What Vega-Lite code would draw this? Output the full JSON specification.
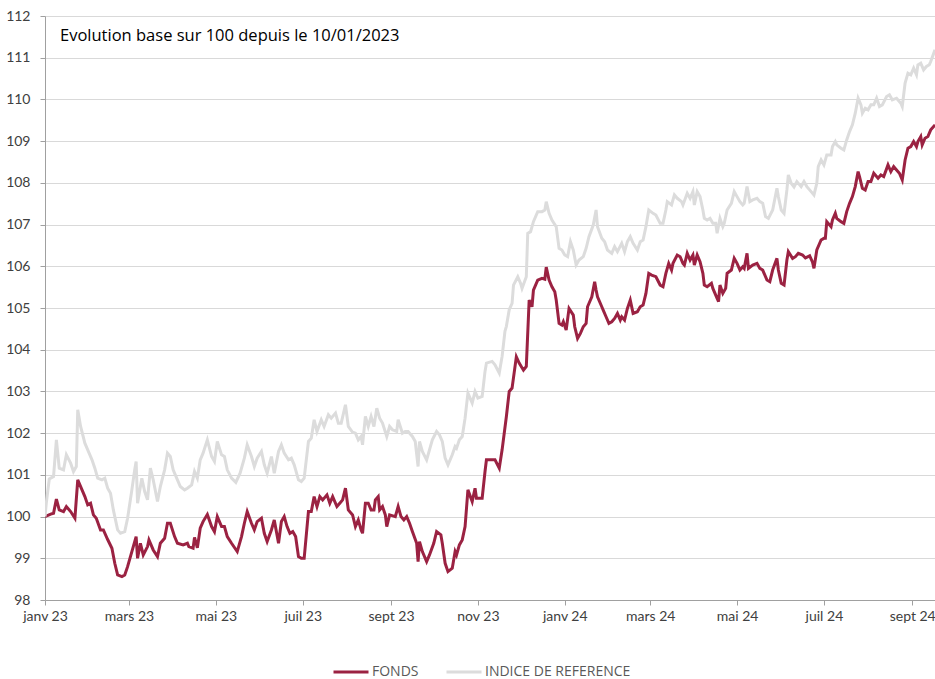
{
  "$schema": "https://vega.github.io/schema/vega-lite/v6.json",
  "width": 890,
  "height": 584,
  "autosize": "none",
  "padding": {"left": 45, "top": 16, "right": 0, "bottom": 79},
  "background": "white",
  "title": {
    "text": "Evolution base sur 100 depuis le 10/01/2023",
    "anchor": "start",
    "frame": "group",
    "orient": "top",
    "offset": 0,
    "dx": 15,
    "dy": 48,
    "baseline": "alphabetic",
    "font": "Open Sans",
    "fontSize": 16.5,
    "fontWeight": 500,
    "color": "#000000"
  },
  "config": {
    "view": {"stroke": null},
    "font": "Lato",
    "axis": {
      "labelFont": "Lato",
      "labelFontSize": 14,
      "labelColor": "#404040",
      "domainColor": "#A0A0A0",
      "tickColor": "#A0A0A0",
      "gridColor": "#D9D9D9",
      "gridWidth": 1,
      "title": null
    }
  },
  "data": {
    "values": [
      {"date":"2023-01-10","serie":"FONDS","v":100.0},
      {"date":"2023-01-14","serie":"FONDS","v":100.06},
      {"date":"2023-01-16","serie":"FONDS","v":100.08},
      {"date":"2023-01-18","serie":"FONDS","v":100.42},
      {"date":"2023-01-20","serie":"FONDS","v":100.16},
      {"date":"2023-01-23","serie":"FONDS","v":100.12},
      {"date":"2023-01-25","serie":"FONDS","v":100.24},
      {"date":"2023-01-28","serie":"FONDS","v":100.12},
      {"date":"2023-01-31","serie":"FONDS","v":99.96},
      {"date":"2023-02-02","serie":"FONDS","v":100.88},
      {"date":"2023-02-05","serie":"FONDS","v":100.64},
      {"date":"2023-02-07","serie":"FONDS","v":100.48},
      {"date":"2023-02-09","serie":"FONDS","v":100.28},
      {"date":"2023-02-11","serie":"FONDS","v":100.32},
      {"date":"2023-02-13","serie":"FONDS","v":100.04},
      {"date":"2023-02-15","serie":"FONDS","v":99.96},
      {"date":"2023-02-18","serie":"FONDS","v":99.68},
      {"date":"2023-02-20","serie":"FONDS","v":99.68},
      {"date":"2023-02-23","serie":"FONDS","v":99.45},
      {"date":"2023-02-26","serie":"FONDS","v":99.24},
      {"date":"2023-02-28","serie":"FONDS","v":98.88},
      {"date":"2023-03-02","serie":"FONDS","v":98.6},
      {"date":"2023-03-05","serie":"FONDS","v":98.56},
      {"date":"2023-03-07","serie":"FONDS","v":98.6},
      {"date":"2023-03-09","serie":"FONDS","v":98.8},
      {"date":"2023-03-13","serie":"FONDS","v":99.28},
      {"date":"2023-03-15","serie":"FONDS","v":99.52},
      {"date":"2023-03-16","serie":"FONDS","v":99.0},
      {"date":"2023-03-18","serie":"FONDS","v":99.36},
      {"date":"2023-03-20","serie":"FONDS","v":99.08},
      {"date":"2023-03-23","serie":"FONDS","v":99.28},
      {"date":"2023-03-24","serie":"FONDS","v":99.44},
      {"date":"2023-03-27","serie":"FONDS","v":99.2},
      {"date":"2023-03-30","serie":"FONDS","v":99.04},
      {"date":"2023-04-01","serie":"FONDS","v":99.36},
      {"date":"2023-04-04","serie":"FONDS","v":99.48},
      {"date":"2023-04-06","serie":"FONDS","v":99.84},
      {"date":"2023-04-08","serie":"FONDS","v":99.84},
      {"date":"2023-04-11","serie":"FONDS","v":99.52},
      {"date":"2023-04-13","serie":"FONDS","v":99.36},
      {"date":"2023-04-17","serie":"FONDS","v":99.32},
      {"date":"2023-04-20","serie":"FONDS","v":99.36},
      {"date":"2023-04-21","serie":"FONDS","v":99.28},
      {"date":"2023-04-24","serie":"FONDS","v":99.24},
      {"date":"2023-04-25","serie":"FONDS","v":99.5},
      {"date":"2023-04-27","serie":"FONDS","v":99.25},
      {"date":"2023-04-29","serie":"FONDS","v":99.72},
      {"date":"2023-05-01","serie":"FONDS","v":99.88},
      {"date":"2023-05-04","serie":"FONDS","v":100.05},
      {"date":"2023-05-07","serie":"FONDS","v":99.76},
      {"date":"2023-05-09","serie":"FONDS","v":99.64},
      {"date":"2023-05-11","serie":"FONDS","v":100.0},
      {"date":"2023-05-14","serie":"FONDS","v":99.76},
      {"date":"2023-05-16","serie":"FONDS","v":99.76},
      {"date":"2023-05-18","serie":"FONDS","v":99.52},
      {"date":"2023-05-21","serie":"FONDS","v":99.36},
      {"date":"2023-05-25","serie":"FONDS","v":99.16},
      {"date":"2023-05-28","serie":"FONDS","v":99.52},
      {"date":"2023-05-30","serie":"FONDS","v":99.84},
      {"date":"2023-06-01","serie":"FONDS","v":100.12},
      {"date":"2023-06-04","serie":"FONDS","v":99.84},
      {"date":"2023-06-06","serie":"FONDS","v":99.68},
      {"date":"2023-06-08","serie":"FONDS","v":99.88},
      {"date":"2023-06-11","serie":"FONDS","v":99.96},
      {"date":"2023-06-13","serie":"FONDS","v":99.6},
      {"date":"2023-06-15","serie":"FONDS","v":99.4},
      {"date":"2023-06-18","serie":"FONDS","v":99.68},
      {"date":"2023-06-20","serie":"FONDS","v":99.92},
      {"date":"2023-06-23","serie":"FONDS","v":99.36},
      {"date":"2023-06-25","serie":"FONDS","v":99.88},
      {"date":"2023-06-27","serie":"FONDS","v":100.0},
      {"date":"2023-06-29","serie":"FONDS","v":99.76},
      {"date":"2023-07-01","serie":"FONDS","v":99.6},
      {"date":"2023-07-03","serie":"FONDS","v":99.64},
      {"date":"2023-07-05","serie":"FONDS","v":99.52},
      {"date":"2023-07-07","serie":"FONDS","v":99.04},
      {"date":"2023-07-09","serie":"FONDS","v":99.0},
      {"date":"2023-07-11","serie":"FONDS","v":99.0},
      {"date":"2023-07-14","serie":"FONDS","v":100.12},
      {"date":"2023-07-16","serie":"FONDS","v":100.12},
      {"date":"2023-07-18","serie":"FONDS","v":100.48},
      {"date":"2023-07-20","serie":"FONDS","v":100.24},
      {"date":"2023-07-22","serie":"FONDS","v":100.48},
      {"date":"2023-07-24","serie":"FONDS","v":100.4},
      {"date":"2023-07-27","serie":"FONDS","v":100.52},
      {"date":"2023-07-29","serie":"FONDS","v":100.32},
      {"date":"2023-07-31","serie":"FONDS","v":100.48},
      {"date":"2023-08-03","serie":"FONDS","v":100.24},
      {"date":"2023-08-05","serie":"FONDS","v":100.32},
      {"date":"2023-08-07","serie":"FONDS","v":100.4},
      {"date":"2023-08-09","serie":"FONDS","v":100.68},
      {"date":"2023-08-11","serie":"FONDS","v":100.16},
      {"date":"2023-08-14","serie":"FONDS","v":100.04},
      {"date":"2023-08-16","serie":"FONDS","v":99.76},
      {"date":"2023-08-18","serie":"FONDS","v":99.92},
      {"date":"2023-08-20","serie":"FONDS","v":99.68},
      {"date":"2023-08-21","serie":"FONDS","v":99.6},
      {"date":"2023-08-23","serie":"FONDS","v":100.32},
      {"date":"2023-08-25","serie":"FONDS","v":100.32},
      {"date":"2023-08-27","serie":"FONDS","v":100.16},
      {"date":"2023-08-29","serie":"FONDS","v":100.16},
      {"date":"2023-08-30","serie":"FONDS","v":100.4},
      {"date":"2023-09-01","serie":"FONDS","v":100.48},
      {"date":"2023-09-02","serie":"FONDS","v":100.16},
      {"date":"2023-09-04","serie":"FONDS","v":100.24},
      {"date":"2023-09-06","serie":"FONDS","v":100.04},
      {"date":"2023-09-07","serie":"FONDS","v":99.76},
      {"date":"2023-09-09","serie":"FONDS","v":100.04},
      {"date":"2023-09-13","serie":"FONDS","v":100.0},
      {"date":"2023-09-15","serie":"FONDS","v":100.24},
      {"date":"2023-09-17","serie":"FONDS","v":100.0},
      {"date":"2023-09-19","serie":"FONDS","v":99.92},
      {"date":"2023-09-21","serie":"FONDS","v":100.0},
      {"date":"2023-09-23","serie":"FONDS","v":99.84},
      {"date":"2023-09-25","serie":"FONDS","v":99.64},
      {"date":"2023-09-28","serie":"FONDS","v":99.36},
      {"date":"2023-09-29","serie":"FONDS","v":98.92},
      {"date":"2023-09-30","serie":"FONDS","v":99.4},
      {"date":"2023-10-02","serie":"FONDS","v":99.16},
      {"date":"2023-10-05","serie":"FONDS","v":98.92},
      {"date":"2023-10-07","serie":"FONDS","v":99.08},
      {"date":"2023-10-10","serie":"FONDS","v":99.36},
      {"date":"2023-10-12","serie":"FONDS","v":99.64},
      {"date":"2023-10-15","serie":"FONDS","v":99.56},
      {"date":"2023-10-16","serie":"FONDS","v":99.36},
      {"date":"2023-10-18","serie":"FONDS","v":98.88},
      {"date":"2023-10-20","serie":"FONDS","v":98.68},
      {"date":"2023-10-23","serie":"FONDS","v":98.76},
      {"date":"2023-10-25","serie":"FONDS","v":99.16},
      {"date":"2023-10-26","serie":"FONDS","v":99.08},
      {"date":"2023-10-28","serie":"FONDS","v":99.32},
      {"date":"2023-10-30","serie":"FONDS","v":99.44},
      {"date":"2023-11-01","serie":"FONDS","v":99.76},
      {"date":"2023-11-03","serie":"FONDS","v":100.64},
      {"date":"2023-11-06","serie":"FONDS","v":100.36},
      {"date":"2023-11-08","serie":"FONDS","v":100.68},
      {"date":"2023-11-09","serie":"FONDS","v":100.44},
      {"date":"2023-11-13","serie":"FONDS","v":100.44},
      {"date":"2023-11-15","serie":"FONDS","v":101.08},
      {"date":"2023-11-16","serie":"FONDS","v":101.36},
      {"date":"2023-11-20","serie":"FONDS","v":101.36},
      {"date":"2023-11-22","serie":"FONDS","v":101.36},
      {"date":"2023-11-25","serie":"FONDS","v":101.16},
      {"date":"2023-11-27","serie":"FONDS","v":101.6},
      {"date":"2023-11-30","serie":"FONDS","v":102.4},
      {"date":"2023-12-02","serie":"FONDS","v":103.0},
      {"date":"2023-12-04","serie":"FONDS","v":103.08},
      {"date":"2023-12-07","serie":"FONDS","v":103.83},
      {"date":"2023-12-09","serie":"FONDS","v":103.68},
      {"date":"2023-12-12","serie":"FONDS","v":103.51},
      {"date":"2023-12-14","serie":"FONDS","v":103.6},
      {"date":"2023-12-16","serie":"FONDS","v":105.19},
      {"date":"2023-12-18","serie":"FONDS","v":105.03},
      {"date":"2023-12-19","serie":"FONDS","v":105.43},
      {"date":"2023-12-22","serie":"FONDS","v":105.67},
      {"date":"2023-12-25","serie":"FONDS","v":105.71},
      {"date":"2023-12-27","serie":"FONDS","v":105.69},
      {"date":"2023-12-28","serie":"FONDS","v":105.98},
      {"date":"2023-12-30","serie":"FONDS","v":105.67},
      {"date":"2024-01-01","serie":"FONDS","v":105.51},
      {"date":"2024-01-03","serie":"FONDS","v":105.39},
      {"date":"2024-01-04","serie":"FONDS","v":105.19},
      {"date":"2024-01-06","serie":"FONDS","v":104.63},
      {"date":"2024-01-08","serie":"FONDS","v":104.59},
      {"date":"2024-01-09","serie":"FONDS","v":104.67},
      {"date":"2024-01-11","serie":"FONDS","v":104.47},
      {"date":"2024-01-13","serie":"FONDS","v":104.99},
      {"date":"2024-01-16","serie":"FONDS","v":104.83},
      {"date":"2024-01-17","serie":"FONDS","v":104.55},
      {"date":"2024-01-19","serie":"FONDS","v":104.27},
      {"date":"2024-01-21","serie":"FONDS","v":104.39},
      {"date":"2024-01-23","serie":"FONDS","v":104.55},
      {"date":"2024-01-25","serie":"FONDS","v":104.63},
      {"date":"2024-01-26","serie":"FONDS","v":105.03},
      {"date":"2024-01-29","serie":"FONDS","v":105.27},
      {"date":"2024-01-31","serie":"FONDS","v":105.63},
      {"date":"2024-02-01","serie":"FONDS","v":105.43},
      {"date":"2024-02-02","serie":"FONDS","v":105.27},
      {"date":"2024-02-05","serie":"FONDS","v":105.03},
      {"date":"2024-02-06","serie":"FONDS","v":104.95},
      {"date":"2024-02-08","serie":"FONDS","v":104.79},
      {"date":"2024-02-10","serie":"FONDS","v":104.63},
      {"date":"2024-02-12","serie":"FONDS","v":104.67},
      {"date":"2024-02-14","serie":"FONDS","v":104.75},
      {"date":"2024-02-16","serie":"FONDS","v":104.87},
      {"date":"2024-02-18","serie":"FONDS","v":104.71},
      {"date":"2024-02-19","serie":"FONDS","v":104.79},
      {"date":"2024-02-21","serie":"FONDS","v":104.71},
      {"date":"2024-02-23","serie":"FONDS","v":104.99},
      {"date":"2024-02-25","serie":"FONDS","v":105.19},
      {"date":"2024-02-27","serie":"FONDS","v":104.87},
      {"date":"2024-03-01","serie":"FONDS","v":104.91},
      {"date":"2024-03-03","serie":"FONDS","v":105.03},
      {"date":"2024-03-05","serie":"FONDS","v":105.07},
      {"date":"2024-03-07","serie":"FONDS","v":105.35},
      {"date":"2024-03-09","serie":"FONDS","v":105.83},
      {"date":"2024-03-11","serie":"FONDS","v":105.79},
      {"date":"2024-03-14","serie":"FONDS","v":105.75},
      {"date":"2024-03-17","serie":"FONDS","v":105.55},
      {"date":"2024-03-19","serie":"FONDS","v":105.51},
      {"date":"2024-03-21","serie":"FONDS","v":105.83},
      {"date":"2024-03-23","serie":"FONDS","v":106.07},
      {"date":"2024-03-25","serie":"FONDS","v":105.91},
      {"date":"2024-03-26","serie":"FONDS","v":106.07},
      {"date":"2024-03-29","serie":"FONDS","v":106.27},
      {"date":"2024-03-31","serie":"FONDS","v":106.23},
      {"date":"2024-04-02","serie":"FONDS","v":106.07},
      {"date":"2024-04-03","serie":"FONDS","v":106.03},
      {"date":"2024-04-05","serie":"FONDS","v":106.31},
      {"date":"2024-04-07","serie":"FONDS","v":106.15},
      {"date":"2024-04-09","serie":"FONDS","v":106.27},
      {"date":"2024-04-10","serie":"FONDS","v":106.03},
      {"date":"2024-04-12","serie":"FONDS","v":106.27},
      {"date":"2024-04-14","serie":"FONDS","v":106.11},
      {"date":"2024-04-16","serie":"FONDS","v":105.83},
      {"date":"2024-04-17","serie":"FONDS","v":105.55},
      {"date":"2024-04-19","serie":"FONDS","v":105.51},
      {"date":"2024-04-22","serie":"FONDS","v":105.59},
      {"date":"2024-04-23","serie":"FONDS","v":105.47},
      {"date":"2024-04-26","serie":"FONDS","v":105.23},
      {"date":"2024-04-27","serie":"FONDS","v":105.15},
      {"date":"2024-04-28","serie":"FONDS","v":105.55},
      {"date":"2024-04-30","serie":"FONDS","v":105.35},
      {"date":"2024-05-02","serie":"FONDS","v":105.47},
      {"date":"2024-05-03","serie":"FONDS","v":105.83},
      {"date":"2024-05-06","serie":"FONDS","v":105.91},
      {"date":"2024-05-08","serie":"FONDS","v":106.19},
      {"date":"2024-05-10","serie":"FONDS","v":106.07},
      {"date":"2024-05-12","serie":"FONDS","v":105.91},
      {"date":"2024-05-14","serie":"FONDS","v":105.99},
      {"date":"2024-05-15","serie":"FONDS","v":105.95},
      {"date":"2024-05-17","serie":"FONDS","v":106.31},
      {"date":"2024-05-18","serie":"FONDS","v":105.95},
      {"date":"2024-05-21","serie":"FONDS","v":106.03},
      {"date":"2024-05-24","serie":"FONDS","v":106.07},
      {"date":"2024-05-26","serie":"FONDS","v":105.95},
      {"date":"2024-05-28","serie":"FONDS","v":105.91},
      {"date":"2024-05-31","serie":"FONDS","v":105.67},
      {"date":"2024-06-02","serie":"FONDS","v":105.63},
      {"date":"2024-06-04","serie":"FONDS","v":105.91},
      {"date":"2024-06-07","serie":"FONDS","v":106.19},
      {"date":"2024-06-08","serie":"FONDS","v":105.91},
      {"date":"2024-06-10","serie":"FONDS","v":105.59},
      {"date":"2024-06-12","serie":"FONDS","v":105.55},
      {"date":"2024-06-14","serie":"FONDS","v":106.15},
      {"date":"2024-06-15","serie":"FONDS","v":106.35},
      {"date":"2024-06-18","serie":"FONDS","v":106.19},
      {"date":"2024-06-20","serie":"FONDS","v":106.23},
      {"date":"2024-06-22","serie":"FONDS","v":106.31},
      {"date":"2024-06-25","serie":"FONDS","v":106.27},
      {"date":"2024-06-27","serie":"FONDS","v":106.2},
      {"date":"2024-06-30","serie":"FONDS","v":106.25},
      {"date":"2024-07-02","serie":"FONDS","v":106.1},
      {"date":"2024-07-03","serie":"FONDS","v":105.95},
      {"date":"2024-07-05","serie":"FONDS","v":106.39},
      {"date":"2024-07-08","serie":"FONDS","v":106.63},
      {"date":"2024-07-10","serie":"FONDS","v":106.67},
      {"date":"2024-07-11","serie":"FONDS","v":106.67},
      {"date":"2024-07-12","serie":"FONDS","v":107.07},
      {"date":"2024-07-15","serie":"FONDS","v":106.95},
      {"date":"2024-07-16","serie":"FONDS","v":107.11},
      {"date":"2024-07-18","serie":"FONDS","v":107.27},
      {"date":"2024-07-19","serie":"FONDS","v":107.15},
      {"date":"2024-07-22","serie":"FONDS","v":107.07},
      {"date":"2024-07-24","serie":"FONDS","v":107.03},
      {"date":"2024-07-26","serie":"FONDS","v":107.31},
      {"date":"2024-07-28","serie":"FONDS","v":107.51},
      {"date":"2024-07-30","serie":"FONDS","v":107.67},
      {"date":"2024-08-01","serie":"FONDS","v":107.91},
      {"date":"2024-08-03","serie":"FONDS","v":108.27},
      {"date":"2024-08-04","serie":"FONDS","v":108.15},
      {"date":"2024-08-06","serie":"FONDS","v":107.87},
      {"date":"2024-08-08","serie":"FONDS","v":107.83},
      {"date":"2024-08-10","serie":"FONDS","v":108.03},
      {"date":"2024-08-12","serie":"FONDS","v":108.03},
      {"date":"2024-08-14","serie":"FONDS","v":108.23},
      {"date":"2024-08-17","serie":"FONDS","v":108.11},
      {"date":"2024-08-19","serie":"FONDS","v":108.19},
      {"date":"2024-08-21","serie":"FONDS","v":108.15},
      {"date":"2024-08-24","serie":"FONDS","v":108.43},
      {"date":"2024-08-25","serie":"FONDS","v":108.35},
      {"date":"2024-08-26","serie":"FONDS","v":108.27},
      {"date":"2024-08-28","serie":"FONDS","v":108.39},
      {"date":"2024-08-30","serie":"FONDS","v":108.31},
      {"date":"2024-09-01","serie":"FONDS","v":108.23},
      {"date":"2024-09-03","serie":"FONDS","v":108.07},
      {"date":"2024-09-05","serie":"FONDS","v":108.55},
      {"date":"2024-09-07","serie":"FONDS","v":108.83},
      {"date":"2024-09-09","serie":"FONDS","v":108.87},
      {"date":"2024-09-11","serie":"FONDS","v":108.99},
      {"date":"2024-09-13","serie":"FONDS","v":108.87},
      {"date":"2024-09-14","serie":"FONDS","v":108.99},
      {"date":"2024-09-16","serie":"FONDS","v":109.11},
      {"date":"2024-09-17","serie":"FONDS","v":108.91},
      {"date":"2024-09-19","serie":"FONDS","v":109.07},
      {"date":"2024-09-21","serie":"FONDS","v":109.11},
      {"date":"2024-09-23","serie":"FONDS","v":109.27},
      {"date":"2024-09-26","serie":"FONDS","v":109.39},

      {"date":"2023-01-10","serie":"INDICE DE REFERENCE","v":100.0},
      {"date":"2023-01-11","serie":"INDICE DE REFERENCE","v":100.35},
      {"date":"2023-01-13","serie":"INDICE DE REFERENCE","v":100.9},
      {"date":"2023-01-16","serie":"INDICE DE REFERENCE","v":100.96},
      {"date":"2023-01-18","serie":"INDICE DE REFERENCE","v":101.84},
      {"date":"2023-01-20","serie":"INDICE DE REFERENCE","v":101.16},
      {"date":"2023-01-23","serie":"INDICE DE REFERENCE","v":101.12},
      {"date":"2023-01-25","serie":"INDICE DE REFERENCE","v":101.48},
      {"date":"2023-01-28","serie":"INDICE DE REFERENCE","v":101.28},
      {"date":"2023-01-30","serie":"INDICE DE REFERENCE","v":101.08},
      {"date":"2023-02-01","serie":"INDICE DE REFERENCE","v":101.2},
      {"date":"2023-02-02","serie":"INDICE DE REFERENCE","v":102.56},
      {"date":"2023-02-04","serie":"INDICE DE REFERENCE","v":102.16},
      {"date":"2023-02-07","serie":"INDICE DE REFERENCE","v":101.76},
      {"date":"2023-02-09","serie":"INDICE DE REFERENCE","v":101.6},
      {"date":"2023-02-12","serie":"INDICE DE REFERENCE","v":101.36},
      {"date":"2023-02-14","serie":"INDICE DE REFERENCE","v":101.16},
      {"date":"2023-02-16","serie":"INDICE DE REFERENCE","v":100.92},
      {"date":"2023-02-19","serie":"INDICE DE REFERENCE","v":100.88},
      {"date":"2023-02-21","serie":"INDICE DE REFERENCE","v":100.92},
      {"date":"2023-02-23","serie":"INDICE DE REFERENCE","v":100.68},
      {"date":"2023-02-25","serie":"INDICE DE REFERENCE","v":100.56},
      {"date":"2023-02-27","serie":"INDICE DE REFERENCE","v":100.16},
      {"date":"2023-03-02","serie":"INDICE DE REFERENCE","v":99.68},
      {"date":"2023-03-04","serie":"INDICE DE REFERENCE","v":99.6},
      {"date":"2023-03-07","serie":"INDICE DE REFERENCE","v":99.64},
      {"date":"2023-03-09","serie":"INDICE DE REFERENCE","v":99.96},
      {"date":"2023-03-12","serie":"INDICE DE REFERENCE","v":100.64},
      {"date":"2023-03-14","serie":"INDICE DE REFERENCE","v":101.12},
      {"date":"2023-03-15","serie":"INDICE DE REFERENCE","v":101.32},
      {"date":"2023-03-16","serie":"INDICE DE REFERENCE","v":100.32},
      {"date":"2023-03-19","serie":"INDICE DE REFERENCE","v":100.92},
      {"date":"2023-03-21","serie":"INDICE DE REFERENCE","v":100.6},
      {"date":"2023-03-23","serie":"INDICE DE REFERENCE","v":100.4},
      {"date":"2023-03-25","serie":"INDICE DE REFERENCE","v":101.16},
      {"date":"2023-03-27","serie":"INDICE DE REFERENCE","v":100.88},
      {"date":"2023-03-30","serie":"INDICE DE REFERENCE","v":100.36},
      {"date":"2023-04-01","serie":"INDICE DE REFERENCE","v":100.72},
      {"date":"2023-04-04","serie":"INDICE DE REFERENCE","v":101.12},
      {"date":"2023-04-06","serie":"INDICE DE REFERENCE","v":101.52},
      {"date":"2023-04-08","serie":"INDICE DE REFERENCE","v":101.44},
      {"date":"2023-04-10","serie":"INDICE DE REFERENCE","v":101.12},
      {"date":"2023-04-13","serie":"INDICE DE REFERENCE","v":100.88},
      {"date":"2023-04-15","serie":"INDICE DE REFERENCE","v":100.72},
      {"date":"2023-04-18","serie":"INDICE DE REFERENCE","v":100.64},
      {"date":"2023-04-20","serie":"INDICE DE REFERENCE","v":100.68},
      {"date":"2023-04-23","serie":"INDICE DE REFERENCE","v":100.76},
      {"date":"2023-04-25","serie":"INDICE DE REFERENCE","v":101.08},
      {"date":"2023-04-27","serie":"INDICE DE REFERENCE","v":100.92},
      {"date":"2023-04-29","serie":"INDICE DE REFERENCE","v":101.36},
      {"date":"2023-05-01","serie":"INDICE DE REFERENCE","v":101.52},
      {"date":"2023-05-04","serie":"INDICE DE REFERENCE","v":101.84},
      {"date":"2023-05-07","serie":"INDICE DE REFERENCE","v":101.44},
      {"date":"2023-05-09","serie":"INDICE DE REFERENCE","v":101.32},
      {"date":"2023-05-11","serie":"INDICE DE REFERENCE","v":101.8},
      {"date":"2023-05-14","serie":"INDICE DE REFERENCE","v":101.48},
      {"date":"2023-05-16","serie":"INDICE DE REFERENCE","v":101.44},
      {"date":"2023-05-18","serie":"INDICE DE REFERENCE","v":101.12},
      {"date":"2023-05-21","serie":"INDICE DE REFERENCE","v":100.92},
      {"date":"2023-05-24","serie":"INDICE DE REFERENCE","v":100.82},
      {"date":"2023-05-27","serie":"INDICE DE REFERENCE","v":101.04},
      {"date":"2023-05-30","serie":"INDICE DE REFERENCE","v":101.4},
      {"date":"2023-06-01","serie":"INDICE DE REFERENCE","v":101.72},
      {"date":"2023-06-04","serie":"INDICE DE REFERENCE","v":101.44},
      {"date":"2023-06-06","serie":"INDICE DE REFERENCE","v":101.2},
      {"date":"2023-06-08","serie":"INDICE DE REFERENCE","v":101.4},
      {"date":"2023-06-11","serie":"INDICE DE REFERENCE","v":101.56},
      {"date":"2023-06-13","serie":"INDICE DE REFERENCE","v":101.24},
      {"date":"2023-06-15","serie":"INDICE DE REFERENCE","v":101.04},
      {"date":"2023-06-18","serie":"INDICE DE REFERENCE","v":101.44},
      {"date":"2023-06-20","serie":"INDICE DE REFERENCE","v":101.04},
      {"date":"2023-06-23","serie":"INDICE DE REFERENCE","v":101.56},
      {"date":"2023-06-25","serie":"INDICE DE REFERENCE","v":101.72},
      {"date":"2023-06-27","serie":"INDICE DE REFERENCE","v":101.52},
      {"date":"2023-06-30","serie":"INDICE DE REFERENCE","v":101.36},
      {"date":"2023-07-02","serie":"INDICE DE REFERENCE","v":101.4},
      {"date":"2023-07-04","serie":"INDICE DE REFERENCE","v":101.24},
      {"date":"2023-07-07","serie":"INDICE DE REFERENCE","v":100.88},
      {"date":"2023-07-09","serie":"INDICE DE REFERENCE","v":100.84},
      {"date":"2023-07-11","serie":"INDICE DE REFERENCE","v":100.92},
      {"date":"2023-07-14","serie":"INDICE DE REFERENCE","v":101.8},
      {"date":"2023-07-16","serie":"INDICE DE REFERENCE","v":101.88},
      {"date":"2023-07-18","serie":"INDICE DE REFERENCE","v":102.32},
      {"date":"2023-07-20","serie":"INDICE DE REFERENCE","v":102.04},
      {"date":"2023-07-23","serie":"INDICE DE REFERENCE","v":102.32},
      {"date":"2023-07-25","serie":"INDICE DE REFERENCE","v":102.16},
      {"date":"2023-07-28","serie":"INDICE DE REFERENCE","v":102.44},
      {"date":"2023-07-30","serie":"INDICE DE REFERENCE","v":102.36},
      {"date":"2023-08-02","serie":"INDICE DE REFERENCE","v":102.48},
      {"date":"2023-08-04","serie":"INDICE DE REFERENCE","v":102.24},
      {"date":"2023-08-06","serie":"INDICE DE REFERENCE","v":102.24},
      {"date":"2023-08-09","serie":"INDICE DE REFERENCE","v":102.68},
      {"date":"2023-08-11","serie":"INDICE DE REFERENCE","v":102.16},
      {"date":"2023-08-14","serie":"INDICE DE REFERENCE","v":102.02},
      {"date":"2023-08-16","serie":"INDICE DE REFERENCE","v":102.0},
      {"date":"2023-08-18","serie":"INDICE DE REFERENCE","v":101.84},
      {"date":"2023-08-20","serie":"INDICE DE REFERENCE","v":101.92},
      {"date":"2023-08-21","serie":"INDICE DE REFERENCE","v":101.72},
      {"date":"2023-08-23","serie":"INDICE DE REFERENCE","v":102.4},
      {"date":"2023-08-25","serie":"INDICE DE REFERENCE","v":102.16},
      {"date":"2023-08-27","serie":"INDICE DE REFERENCE","v":102.4},
      {"date":"2023-08-29","serie":"INDICE DE REFERENCE","v":102.16},
      {"date":"2023-08-31","serie":"INDICE DE REFERENCE","v":102.6},
      {"date":"2023-09-02","serie":"INDICE DE REFERENCE","v":102.36},
      {"date":"2023-09-04","serie":"INDICE DE REFERENCE","v":102.24},
      {"date":"2023-09-07","serie":"INDICE DE REFERENCE","v":101.92},
      {"date":"2023-09-09","serie":"INDICE DE REFERENCE","v":102.16},
      {"date":"2023-09-11","serie":"INDICE DE REFERENCE","v":102.08},
      {"date":"2023-09-14","serie":"INDICE DE REFERENCE","v":102.04},
      {"date":"2023-09-15","serie":"INDICE DE REFERENCE","v":102.32},
      {"date":"2023-09-18","serie":"INDICE DE REFERENCE","v":102.0},
      {"date":"2023-09-20","serie":"INDICE DE REFERENCE","v":102.04},
      {"date":"2023-09-22","serie":"INDICE DE REFERENCE","v":102.04},
      {"date":"2023-09-25","serie":"INDICE DE REFERENCE","v":101.92},
      {"date":"2023-09-27","serie":"INDICE DE REFERENCE","v":101.8},
      {"date":"2023-09-29","serie":"INDICE DE REFERENCE","v":101.2},
      {"date":"2023-09-30","serie":"INDICE DE REFERENCE","v":101.8},
      {"date":"2023-10-02","serie":"INDICE DE REFERENCE","v":101.56},
      {"date":"2023-10-05","serie":"INDICE DE REFERENCE","v":101.36},
      {"date":"2023-10-07","serie":"INDICE DE REFERENCE","v":101.6},
      {"date":"2023-10-09","serie":"INDICE DE REFERENCE","v":101.84},
      {"date":"2023-10-12","serie":"INDICE DE REFERENCE","v":102.04},
      {"date":"2023-10-14","serie":"INDICE DE REFERENCE","v":101.96},
      {"date":"2023-10-16","serie":"INDICE DE REFERENCE","v":101.8},
      {"date":"2023-10-18","serie":"INDICE DE REFERENCE","v":101.4},
      {"date":"2023-10-20","serie":"INDICE DE REFERENCE","v":101.24},
      {"date":"2023-10-23","serie":"INDICE DE REFERENCE","v":101.48},
      {"date":"2023-10-25","serie":"INDICE DE REFERENCE","v":101.68},
      {"date":"2023-10-26","serie":"INDICE DE REFERENCE","v":101.64},
      {"date":"2023-10-28","serie":"INDICE DE REFERENCE","v":101.84},
      {"date":"2023-10-30","serie":"INDICE DE REFERENCE","v":101.92},
      {"date":"2023-11-01","serie":"INDICE DE REFERENCE","v":102.36},
      {"date":"2023-11-03","serie":"INDICE DE REFERENCE","v":102.96},
      {"date":"2023-11-06","serie":"INDICE DE REFERENCE","v":102.72},
      {"date":"2023-11-08","serie":"INDICE DE REFERENCE","v":103.0},
      {"date":"2023-11-10","serie":"INDICE DE REFERENCE","v":102.84},
      {"date":"2023-11-13","serie":"INDICE DE REFERENCE","v":102.88},
      {"date":"2023-11-15","serie":"INDICE DE REFERENCE","v":103.48},
      {"date":"2023-11-16","serie":"INDICE DE REFERENCE","v":103.68},
      {"date":"2023-11-20","serie":"INDICE DE REFERENCE","v":103.72},
      {"date":"2023-11-22","serie":"INDICE DE REFERENCE","v":103.64},
      {"date":"2023-11-25","serie":"INDICE DE REFERENCE","v":103.44},
      {"date":"2023-11-27","serie":"INDICE DE REFERENCE","v":103.84},
      {"date":"2023-11-29","serie":"INDICE DE REFERENCE","v":104.44},
      {"date":"2023-11-30","serie":"INDICE DE REFERENCE","v":104.56},
      {"date":"2023-12-02","serie":"INDICE DE REFERENCE","v":104.96},
      {"date":"2023-12-04","serie":"INDICE DE REFERENCE","v":105.11},
      {"date":"2023-12-05","serie":"INDICE DE REFERENCE","v":105.55},
      {"date":"2023-12-08","serie":"INDICE DE REFERENCE","v":105.75},
      {"date":"2023-12-10","serie":"INDICE DE REFERENCE","v":105.59},
      {"date":"2023-12-11","serie":"INDICE DE REFERENCE","v":105.47},
      {"date":"2023-12-14","serie":"INDICE DE REFERENCE","v":105.75},
      {"date":"2023-12-15","serie":"INDICE DE REFERENCE","v":106.79},
      {"date":"2023-12-17","serie":"INDICE DE REFERENCE","v":106.83},
      {"date":"2023-12-19","serie":"INDICE DE REFERENCE","v":107.07},
      {"date":"2023-12-22","serie":"INDICE DE REFERENCE","v":107.31},
      {"date":"2023-12-25","serie":"INDICE DE REFERENCE","v":107.31},
      {"date":"2023-12-27","serie":"INDICE DE REFERENCE","v":107.35},
      {"date":"2023-12-28","serie":"INDICE DE REFERENCE","v":107.55},
      {"date":"2023-12-30","serie":"INDICE DE REFERENCE","v":107.27},
      {"date":"2024-01-01","serie":"INDICE DE REFERENCE","v":107.11},
      {"date":"2024-01-04","serie":"INDICE DE REFERENCE","v":106.95},
      {"date":"2024-01-06","serie":"INDICE DE REFERENCE","v":106.43},
      {"date":"2024-01-08","serie":"INDICE DE REFERENCE","v":106.39},
      {"date":"2024-01-10","serie":"INDICE DE REFERENCE","v":106.27},
      {"date":"2024-01-12","serie":"INDICE DE REFERENCE","v":106.23},
      {"date":"2024-01-14","serie":"INDICE DE REFERENCE","v":106.59},
      {"date":"2024-01-16","serie":"INDICE DE REFERENCE","v":106.39},
      {"date":"2024-01-18","serie":"INDICE DE REFERENCE","v":106.03},
      {"date":"2024-01-20","serie":"INDICE DE REFERENCE","v":106.15},
      {"date":"2024-01-23","serie":"INDICE DE REFERENCE","v":106.23},
      {"date":"2024-01-25","serie":"INDICE DE REFERENCE","v":106.43},
      {"date":"2024-01-27","serie":"INDICE DE REFERENCE","v":106.71},
      {"date":"2024-01-30","serie":"INDICE DE REFERENCE","v":106.99},
      {"date":"2024-02-01","serie":"INDICE DE REFERENCE","v":107.35},
      {"date":"2024-02-02","serie":"INDICE DE REFERENCE","v":106.95},
      {"date":"2024-02-05","serie":"INDICE DE REFERENCE","v":106.67},
      {"date":"2024-02-07","serie":"INDICE DE REFERENCE","v":106.59},
      {"date":"2024-02-09","serie":"INDICE DE REFERENCE","v":106.39},
      {"date":"2024-02-12","serie":"INDICE DE REFERENCE","v":106.31},
      {"date":"2024-02-14","serie":"INDICE DE REFERENCE","v":106.47},
      {"date":"2024-02-16","serie":"INDICE DE REFERENCE","v":106.35},
      {"date":"2024-02-19","serie":"INDICE DE REFERENCE","v":106.55},
      {"date":"2024-02-21","serie":"INDICE DE REFERENCE","v":106.35},
      {"date":"2024-02-23","serie":"INDICE DE REFERENCE","v":106.59},
      {"date":"2024-02-25","serie":"INDICE DE REFERENCE","v":106.71},
      {"date":"2024-02-27","serie":"INDICE DE REFERENCE","v":106.55},
      {"date":"2024-03-01","serie":"INDICE DE REFERENCE","v":106.39},
      {"date":"2024-03-03","serie":"INDICE DE REFERENCE","v":106.59},
      {"date":"2024-03-05","serie":"INDICE DE REFERENCE","v":106.63},
      {"date":"2024-03-07","serie":"INDICE DE REFERENCE","v":106.95},
      {"date":"2024-03-09","serie":"INDICE DE REFERENCE","v":107.35},
      {"date":"2024-03-12","serie":"INDICE DE REFERENCE","v":107.27},
      {"date":"2024-03-14","serie":"INDICE DE REFERENCE","v":107.23},
      {"date":"2024-03-17","serie":"INDICE DE REFERENCE","v":107.03},
      {"date":"2024-03-19","serie":"INDICE DE REFERENCE","v":107.03},
      {"date":"2024-03-21","serie":"INDICE DE REFERENCE","v":107.35},
      {"date":"2024-03-22","serie":"INDICE DE REFERENCE","v":107.55},
      {"date":"2024-03-25","serie":"INDICE DE REFERENCE","v":107.47},
      {"date":"2024-03-27","serie":"INDICE DE REFERENCE","v":107.71},
      {"date":"2024-03-29","serie":"INDICE DE REFERENCE","v":107.63},
      {"date":"2024-04-01","serie":"INDICE DE REFERENCE","v":107.55},
      {"date":"2024-04-02","serie":"INDICE DE REFERENCE","v":107.47},
      {"date":"2024-04-05","serie":"INDICE DE REFERENCE","v":107.75},
      {"date":"2024-04-07","serie":"INDICE DE REFERENCE","v":107.63},
      {"date":"2024-04-09","serie":"INDICE DE REFERENCE","v":107.79},
      {"date":"2024-04-10","serie":"INDICE DE REFERENCE","v":107.47},
      {"date":"2024-04-12","serie":"INDICE DE REFERENCE","v":107.79},
      {"date":"2024-04-14","serie":"INDICE DE REFERENCE","v":107.67},
      {"date":"2024-04-16","serie":"INDICE DE REFERENCE","v":107.35},
      {"date":"2024-04-17","serie":"INDICE DE REFERENCE","v":107.15},
      {"date":"2024-04-19","serie":"INDICE DE REFERENCE","v":107.11},
      {"date":"2024-04-21","serie":"INDICE DE REFERENCE","v":107.15},
      {"date":"2024-04-23","serie":"INDICE DE REFERENCE","v":107.03},
      {"date":"2024-04-25","serie":"INDICE DE REFERENCE","v":107.03},
      {"date":"2024-04-26","serie":"INDICE DE REFERENCE","v":106.79},
      {"date":"2024-04-28","serie":"INDICE DE REFERENCE","v":107.15},
      {"date":"2024-04-30","serie":"INDICE DE REFERENCE","v":106.95},
      {"date":"2024-05-01","serie":"INDICE DE REFERENCE","v":107.03},
      {"date":"2024-05-03","serie":"INDICE DE REFERENCE","v":107.35},
      {"date":"2024-05-06","serie":"INDICE DE REFERENCE","v":107.51},
      {"date":"2024-05-08","serie":"INDICE DE REFERENCE","v":107.79},
      {"date":"2024-05-10","serie":"INDICE DE REFERENCE","v":107.67},
      {"date":"2024-05-12","serie":"INDICE DE REFERENCE","v":107.55},
      {"date":"2024-05-14","serie":"INDICE DE REFERENCE","v":107.47},
      {"date":"2024-05-15","serie":"INDICE DE REFERENCE","v":107.51},
      {"date":"2024-05-17","serie":"INDICE DE REFERENCE","v":107.91},
      {"date":"2024-05-19","serie":"INDICE DE REFERENCE","v":107.55},
      {"date":"2024-05-21","serie":"INDICE DE REFERENCE","v":107.59},
      {"date":"2024-05-24","serie":"INDICE DE REFERENCE","v":107.63},
      {"date":"2024-05-26","serie":"INDICE DE REFERENCE","v":107.55},
      {"date":"2024-05-28","serie":"INDICE DE REFERENCE","v":107.51},
      {"date":"2024-05-30","serie":"INDICE DE REFERENCE","v":107.19},
      {"date":"2024-06-01","serie":"INDICE DE REFERENCE","v":107.15},
      {"date":"2024-06-04","serie":"INDICE DE REFERENCE","v":107.35},
      {"date":"2024-06-07","serie":"INDICE DE REFERENCE","v":107.87},
      {"date":"2024-06-08","serie":"INDICE DE REFERENCE","v":107.67},
      {"date":"2024-06-10","serie":"INDICE DE REFERENCE","v":107.35},
      {"date":"2024-06-12","serie":"INDICE DE REFERENCE","v":107.27},
      {"date":"2024-06-14","serie":"INDICE DE REFERENCE","v":107.83},
      {"date":"2024-06-15","serie":"INDICE DE REFERENCE","v":108.19},
      {"date":"2024-06-17","serie":"INDICE DE REFERENCE","v":107.99},
      {"date":"2024-06-19","serie":"INDICE DE REFERENCE","v":107.9},
      {"date":"2024-06-21","serie":"INDICE DE REFERENCE","v":108.03},
      {"date":"2024-06-24","serie":"INDICE DE REFERENCE","v":107.91},
      {"date":"2024-06-26","serie":"INDICE DE REFERENCE","v":108.03},
      {"date":"2024-06-28","serie":"INDICE DE REFERENCE","v":107.91},
      {"date":"2024-07-01","serie":"INDICE DE REFERENCE","v":107.79},
      {"date":"2024-07-03","serie":"INDICE DE REFERENCE","v":107.71},
      {"date":"2024-07-05","serie":"INDICE DE REFERENCE","v":107.99},
      {"date":"2024-07-06","serie":"INDICE DE REFERENCE","v":108.39},
      {"date":"2024-07-08","serie":"INDICE DE REFERENCE","v":108.55},
      {"date":"2024-07-10","serie":"INDICE DE REFERENCE","v":108.43},
      {"date":"2024-07-12","serie":"INDICE DE REFERENCE","v":108.67},
      {"date":"2024-07-15","serie":"INDICE DE REFERENCE","v":108.67},
      {"date":"2024-07-16","serie":"INDICE DE REFERENCE","v":108.87},
      {"date":"2024-07-18","serie":"INDICE DE REFERENCE","v":108.99},
      {"date":"2024-07-19","serie":"INDICE DE REFERENCE","v":108.91},
      {"date":"2024-07-22","serie":"INDICE DE REFERENCE","v":108.83},
      {"date":"2024-07-24","serie":"INDICE DE REFERENCE","v":108.79},
      {"date":"2024-07-26","serie":"INDICE DE REFERENCE","v":109.03},
      {"date":"2024-07-28","serie":"INDICE DE REFERENCE","v":109.23},
      {"date":"2024-07-30","serie":"INDICE DE REFERENCE","v":109.39},
      {"date":"2024-08-01","serie":"INDICE DE REFERENCE","v":109.67},
      {"date":"2024-08-03","serie":"INDICE DE REFERENCE","v":110.03},
      {"date":"2024-08-05","serie":"INDICE DE REFERENCE","v":109.87},
      {"date":"2024-08-06","serie":"INDICE DE REFERENCE","v":109.67},
      {"date":"2024-08-08","serie":"INDICE DE REFERENCE","v":109.79},
      {"date":"2024-08-10","serie":"INDICE DE REFERENCE","v":109.75},
      {"date":"2024-08-12","serie":"INDICE DE REFERENCE","v":109.87},
      {"date":"2024-08-14","serie":"INDICE DE REFERENCE","v":109.87},
      {"date":"2024-08-16","serie":"INDICE DE REFERENCE","v":110.03},
      {"date":"2024-08-18","serie":"INDICE DE REFERENCE","v":109.83},
      {"date":"2024-08-20","serie":"INDICE DE REFERENCE","v":109.87},
      {"date":"2024-08-23","serie":"INDICE DE REFERENCE","v":110.07},
      {"date":"2024-08-25","serie":"INDICE DE REFERENCE","v":110.11},
      {"date":"2024-08-27","serie":"INDICE DE REFERENCE","v":109.99},
      {"date":"2024-08-30","serie":"INDICE DE REFERENCE","v":110.03},
      {"date":"2024-09-02","serie":"INDICE DE REFERENCE","v":109.91},
      {"date":"2024-09-03","serie":"INDICE DE REFERENCE","v":109.83},
      {"date":"2024-09-05","serie":"INDICE DE REFERENCE","v":110.39},
      {"date":"2024-09-07","serie":"INDICE DE REFERENCE","v":110.63},
      {"date":"2024-09-09","serie":"INDICE DE REFERENCE","v":110.59},
      {"date":"2024-09-11","serie":"INDICE DE REFERENCE","v":110.75},
      {"date":"2024-09-13","serie":"INDICE DE REFERENCE","v":110.59},
      {"date":"2024-09-14","serie":"INDICE DE REFERENCE","v":110.83},
      {"date":"2024-09-16","serie":"INDICE DE REFERENCE","v":110.87},
      {"date":"2024-09-18","serie":"INDICE DE REFERENCE","v":110.71},
      {"date":"2024-09-20","serie":"INDICE DE REFERENCE","v":110.79},
      {"date":"2024-09-22","serie":"INDICE DE REFERENCE","v":110.83},
      {"date":"2024-09-23","serie":"INDICE DE REFERENCE","v":110.91},
      {"date":"2024-09-26","serie":"INDICE DE REFERENCE","v":111.19}
    ]
  },
  "mark": {"type": "line", "strokeWidth": 3, "clip": true, "interpolate": "linear"},
  "encoding": {
    "x": {
      "field": "date",
      "type": "temporal",
      "scale": {
        "type": "utc",
        "domain": [
          {"year": 2023, "month": 1, "date": 10, "utc": true},
          {"year": 2024, "month": 9, "date": 26, "utc": true}
        ],
        "nice": false
      },
      "axis": {
        "grid": false,
        "values": [
          {"year": 2023, "month": 1, "date": 10, "utc": true},
          {"year": 2023, "month": 3, "date": 10, "utc": true},
          {"year": 2023, "month": 5, "date": 10, "utc": true},
          {"year": 2023, "month": 7, "date": 10, "utc": true},
          {"year": 2023, "month": 9, "date": 10, "utc": true},
          {"year": 2023, "month": 11, "date": 10, "utc": true},
          {"year": 2024, "month": 1, "date": 10, "utc": true},
          {"year": 2024, "month": 3, "date": 10, "utc": true},
          {"year": 2024, "month": 5, "date": 10, "utc": true},
          {"year": 2024, "month": 7, "date": 10, "utc": true},
          {"year": 2024, "month": 9, "date": 10, "utc": true}
        ],
        "labelExpr": "['janv','févr','mars','avr','mai','juin','juil','août','sept','oct','nov','déc'][utcmonth(datum.value)] + ' ' + utcFormat(datum.value, '%y')",
        "tickSize": 5,
        "labelPadding": 4,
        "labelOverlap": false,
        "labelFlush": false
      }
    },
    "y": {
      "field": "v",
      "type": "quantitative",
      "scale": {"domain": [98, 112], "nice": false, "zero": false},
      "axis": {
        "values": [98, 99, 100, 101, 102, 103, 104, 105, 106, 107, 108, 109, 110, 111, 112],
        "grid": true,
        "tickSize": 5,
        "labelPadding": 10
      }
    },
    "color": {
      "field": "serie",
      "type": "nominal",
      "scale": {"domain": ["FONDS", "INDICE DE REFERENCE"], "range": ["#9B2242", "#DCDCDC"]},
      "legend": {
        "title": null,
        "orient": "none",
        "direction": "horizontal",
        "legendX": 287,
        "legendY": 637,
        "symbolType": "stroke",
        "symbolSize": 1225,
        "symbolStrokeWidth": 3,
        "labelFont": "Open Sans",
        "labelFontSize": 14,
        "labelColor": "#595959",
        "labelOffset": 2,
        "columnPadding": 21
      }
    }
  }
}
